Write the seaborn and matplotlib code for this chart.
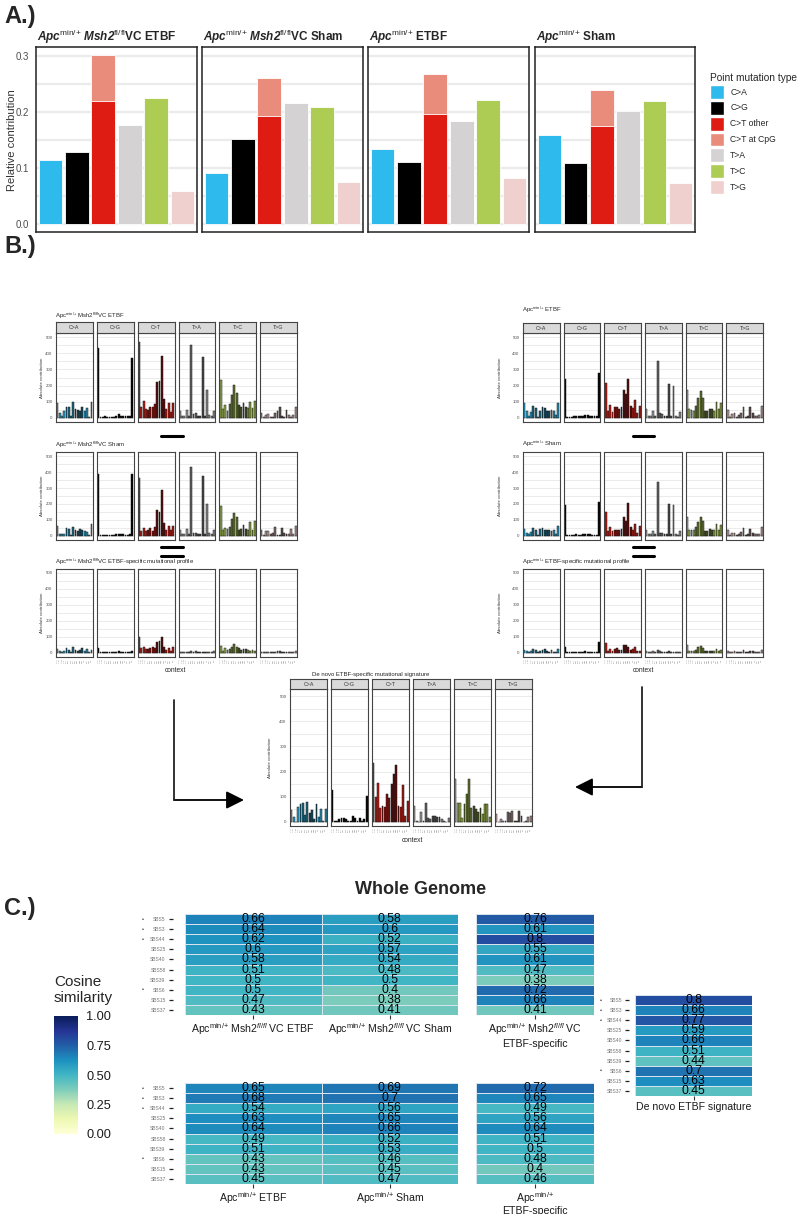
import numpy as np
import pandas as pd
import matplotlib

matplotlib.use("Agg")
import matplotlib.pyplot as plt
import seaborn as sns
from matplotlib.patches import Patch, FancyArrowPatch
from matplotlib.lines import Line2D
from matplotlib.colors import to_rgb

# ---------------- data: panel A (relative contribution) ----------------
MUT_TYPES = ["C>A", "C>G", "C>T", "T>A", "T>C", "T>G"]
A_TITLES = [
    r"$\mathbfit{Apc}^{\mathrm{min/{+}}}\ \mathbfit{Msh2}^{\mathrm{fl/fl}}$VC ETBF",
    r"$\mathbfit{Apc}^{\mathrm{min/{+}}}\ \mathbfit{Msh2}^{\mathrm{fl/fl}}$VC Sham",
    r"$\mathbfit{Apc}^{\mathrm{min/{+}}}$ ETBF",
    r"$\mathbfit{Apc}^{\mathrm{min/{+}}}$ Sham",
]
CA = [0.113, 0.090, 0.134, 0.158]
CG = [0.128, 0.152, 0.111, 0.108]
CT_OTHER = [0.220, 0.193, 0.197, 0.175]
CT_CPG = [0.081, 0.067, 0.070, 0.064]
TA = [0.177, 0.215, 0.184, 0.202]
TC = [0.224, 0.208, 0.222, 0.219]
TG = [0.058, 0.074, 0.081, 0.072]

LEGEND_LABELS = ["C>A", "C>G", "C>T other", "C>T at CpG", "T>A", "T>C", "T>G"]
LEGEND_COLORS = ["#2EBAED", "#000000", "#DE1C14", "#E98C7B", "#D4D2D2", "#ADCC54", "#F0D0CE"]

# ---------------- data: panel B (96-channel profiles, 16 per type) ----------------
CONTEXTS = [f"{a}.{b}" for a in "ACGT" for b in "ACGT"]
PROF_VC_ETBF = [
    90, 30, 10, 40, 70, 65, 10, 100, 55, 50, 40, 70, 40, 60, 5, 100,
    430, 5, 5, 10, 5, 8, 5, 5, 10, 25, 15, 15, 10, 10, 15, 370,
    470, 65, 105, 55, 50, 65, 70, 85, 225, 230, 385, 120, 55, 90, 35, 95,
    40, 10, 10, 50, 15, 450, 25, 30, 10, 15, 375, 10, 175, 20, 10, 45,
    235, 55, 80, 45, 85, 140, 205, 155, 80, 70, 95, 70, 60, 100, 60, 105,
    30, 5, 20, 25, 5, 5, 30, 40, 65, 10, 5, 50, 20, 5, 20, 65,
]
PROF_VC_SHAM = [
    60, 15, 10, 15, 50, 45, 5, 55, 40, 30, 45, 35, 30, 25, 5, 75,
    390, 5, 5, 8, 5, 8, 5, 5, 10, 15, 10, 10, 5, 5, 10, 390,
    365, 30, 50, 30, 35, 50, 30, 55, 160, 150, 285, 80, 35, 65, 40, 60,
    40, 10, 10, 45, 15, 430, 20, 20, 10, 10, 375, 10, 200, 20, 15, 35,
    185, 40, 50, 45, 55, 105, 145, 120, 40, 45, 70, 45, 40, 90, 40, 95,
    35, 5, 30, 30, 15, 20, 55, 5, 5, 50, 20, 15, 10, 45, 10, 65,
]
PROF_VC_SPEC = [
    25, 10, 5, 15, 30, 20, 5, 35, 20, 15, 20, 30, 10, 25, 5, 20,
    30, 5, 5, 5, 5, 5, 5, 5, 5, 10, 5, 5, 5, 5, 5, 10,
    100, 30, 40, 25, 25, 30, 35, 30, 70, 75, 100, 40, 20, 30, 10, 35,
    5, 5, 5, 5, 5, 15, 5, 10, 5, 5, 5, 5, 5, 5, 5, 10,
    45, 15, 30, 20, 25, 35, 55, 40, 30, 20, 25, 25, 20, 15, 20, 10,
    5, 5, 5, 5, 5, 5, 5, 10, 10, 5, 5, 5, 5, 5, 5, 10,
]
PROF_APC_ETBF = [
    95, 40, 15, 35, 75, 60, 5, 45, 70, 60, 45, 45, 50, 45, 20, 90,
    240, 5, 5, 8, 10, 15, 10, 10, 15, 20, 20, 15, 10, 10, 10, 275,
    215, 45, 80, 35, 65, 65, 55, 65, 170, 145, 240, 75, 60, 110, 30, 75,
    55, 15, 10, 40, 15, 355, 30, 25, 15, 15, 210, 15, 200, 15, 5, 35,
    170, 55, 50, 45, 75, 125, 165, 125, 40, 40, 55, 55, 45, 100, 55, 90,
    50, 5, 25, 30, 5, 20, 30, 70, 5, 10, 65, 30, 15, 10, 20, 75,
]
PROF_APC_SHAM = [
    45, 20, 10, 25, 50, 35, 5, 45, 50, 40, 35, 40, 30, 40, 10, 60,
    195, 5, 5, 5, 5, 10, 5, 5, 10, 10, 10, 10, 5, 5, 5, 210,
    150, 30, 55, 30, 40, 40, 35, 45, 120, 95, 205, 55, 40, 75, 20, 60,
    40, 10, 10, 30, 10, 335, 20, 20, 10, 10, 200, 10, 195, 15, 5, 30,
    120, 40, 40, 35, 55, 85, 120, 95, 30, 30, 45, 40, 35, 75, 40, 70,
    40, 5, 20, 20, 5, 15, 25, 50, 5, 10, 45, 20, 10, 10, 15, 55,
]
PROF_APC_SPEC = [
    20, 10, 5, 10, 25, 20, 5, 10, 20, 25, 10, 5, 20, 5, 5, 25,
    40, 5, 5, 5, 5, 5, 5, 5, 5, 10, 5, 5, 5, 5, 5, 70,
    60, 15, 25, 10, 25, 30, 20, 20, 50, 50, 40, 20, 25, 35, 10, 15,
    15, 5, 5, 10, 5, 20, 10, 5, 5, 5, 10, 5, 5, 5, 5, 5,
    50, 15, 10, 10, 20, 40, 45, 30, 10, 10, 10, 15, 10, 25, 15, 20,
    10, 5, 5, 10, 5, 5, 5, 20, 5, 5, 15, 10, 5, 5, 5, 20,
]
PROF_DENOVO = [
    48, 21, 0, 61, 70, 77, 28, 78, 34, 48, 10, 70, 20, 50, 5, 50,
    125, 5, 5, 10, 15, 15, 10, 5, 5, 25, 15, 5, 15, 5, 10, 105,
    235, 100, 155, 55, 65, 60, 110, 95, 150, 190, 225, 65, 60, 145, 25, 85,
    65, 5, 0, 40, 5, 75, 15, 10, 25, 25, 20, 20, 10, 5, 0, 15,
    170, 75, 75, 15, 70, 110, 170, 55, 65, 50, 40, 55, 30, 70, 70, 20,
    30, 0, 10, 5, 5, 40, 35, 45, 5, 5, 45, 25, 0, 5, 20, 25,
]

# ---------------- data: panel C (cosine similarity) ----------------
SIGS = ["SBS5", "SBS3", "SBS44", "SBS25", "SBS40", "SBS58", "SBS39", "SBS6", "SBS15", "SBS37"]
BULLET_SIGS = ["SBS5", "SBS3", "SBS44", "SBS6"]
COS_VC_ETBF = [0.66, 0.64, 0.62, 0.6, 0.58, 0.51, 0.5, 0.5, 0.47, 0.43]
COS_VC_SHAM = [0.58, 0.6, 0.52, 0.57, 0.54, 0.48, 0.5, 0.4, 0.38, 0.41]
COS_VC_SPEC = [0.76, 0.61, 0.8, 0.55, 0.61, 0.47, 0.38, 0.72, 0.66, 0.41]
COS_APC_ETBF = [0.65, 0.68, 0.54, 0.63, 0.64, 0.49, 0.51, 0.43, 0.43, 0.45]
COS_APC_SHAM = [0.69, 0.7, 0.56, 0.65, 0.66, 0.52, 0.53, 0.46, 0.45, 0.47]
COS_APC_SPEC = [0.72, 0.65, 0.49, 0.56, 0.64, 0.51, 0.5, 0.48, 0.4, 0.46]
COS_DENOVO = [0.8, 0.66, 0.77, 0.59, 0.66, 0.51, 0.44, 0.7, 0.63, 0.45]

# ---------------- setup ----------------
sns.set_theme(style="white")
plt.rcParams["font.family"] = ["Liberation Sans", "DejaVu Sans"]
plt.rcParams["mathtext.fontset"] = "custom"
plt.rcParams["mathtext.rm"] = "Liberation Sans"
plt.rcParams["mathtext.it"] = "Liberation Sans:italic"
plt.rcParams["mathtext.bf"] = "Liberation Sans:bold"
plt.rcParams["mathtext.bfit"] = "Liberation Sans:italic:bold"

W, H = 800, 1214
fig = plt.figure(figsize=(W / 100, H / 100), dpi=100)


def fx(x):
    return x / W


def fy(y):
    return 1 - y / H


def add_ax(x0, y0, x1, y1):
    return fig.add_axes([x0 / W, 1 - y1 / H, (x1 - x0) / W, (y1 - y0) / H])


def ftext(x, y, s, **kw):
    return fig.text(fx(x), fy(y), s, **kw)


# ---------------- panel A ----------------
ftext(4, 17, "A.)", fontsize=17, fontweight="bold", va="center")
pal_tot = dict(zip(MUT_TYPES, ["#2EBAED", "#000000", "#E98C7B", "#D4D2D2", "#ADCC54", "#F0D0CE"]))
A_FACETS = [(36, 197), (202, 363), (368, 529), (535, 695)]
for i, (x0, x1) in enumerate(A_FACETS):
    ax = add_ax(x0, 47, x1, 232)
    tot = [CA[i], CG[i], CT_OTHER[i] + CT_CPG[i], TA[i], TC[i], TG[i]]
    df = pd.DataFrame({"type": MUT_TYPES, "value": tot})
    sns.barplot(data=df, x="type", y="value", hue="type", palette=pal_tot, order=MUT_TYPES,
                hue_order=MUT_TYPES, legend=False, width=0.9, saturation=1, errorbar=None,
                edgecolor="white", linewidth=0.6, ax=ax)
    df2 = pd.DataFrame({"type": ["C>T"], "value": [CT_OTHER[i]]})
    sns.barplot(data=df2, x="type", y="value", order=MUT_TYPES, color="#DE1C14", width=0.9,
                saturation=1, errorbar=None, edgecolor="white", linewidth=0.6, ax=ax)
    ax.set_xlim(-0.55, 5.55)
    ax.set_ylim(-0.015, 0.316)
    ax.set_yticks([0, 0.1, 0.2, 0.3])
    ax.set_yticks([0.05, 0.15, 0.25], minor=True)
    ax.grid(axis="y", which="both", color="#EBEBEB", lw=1.6)
    ax.set_axisbelow(True)
    ax.set_xticks([])
    ax.set_xlabel("")
    ax.set_ylabel("")
    for sp in ax.spines.values():
        sp.set_color("#222222")
        sp.set_linewidth(1.1)
    if i == 0:
        ax.set_yticklabels(["0.0", "0.1", "0.2", "0.3"])
        ax.tick_params(axis="y", which="major", labelsize=7, labelcolor="#4D4D4D", length=2, pad=3)
    else:
        ax.tick_params(axis="y", labelleft=False, length=0)
    ax.tick_params(axis="y", which="minor", length=0)
    ftext(x0 + 1, 41, A_TITLES[i], fontsize=8.5, fontweight="bold", va="baseline")

ftext(12, 140, "Relative contribution", rotation=90, fontsize=8, va="center", ha="center", color="#333333")
handles = [Patch(facecolor=c, edgecolor="white") for c in LEGEND_COLORS]
fig.legend(handles, LEGEND_LABELS, title="Point mutation type", loc="upper left",
           bbox_to_anchor=(fx(710), fy(73)), frameon=False, fontsize=6.2, title_fontsize=7.3,
           handlelength=1.65, handleheight=2.1, labelspacing=0.23, handletextpad=0.7,
           borderpad=0, borderaxespad=0, alignment="left")

# ---------------- panel B ----------------
ftext(4, 247, "B.)", fontsize=17, fontweight="bold", va="center")
BASE_COL = dict(zip(MUT_TYPES, ["#2EBAED", "#000000", "#DE1C14", "#B5B3B3", "#ADCC54", "#E0C0BE"]))
SHADE = [0.85, 0.55, 0.4, 0.75]


def shades(mt):
    base = np.array(to_rgb(BASE_COL[mt]))
    return [tuple(base * SHADE[j // 4]) for j in range(16)]


def draw_profile(x0, x1, top, bot, title, title_x, title_y, vals, strip_top=None,
                 ylab_x=None, show_ctx=False, ylim=(-25, 525)):
    gap = 4
    fw = (x1 - x0 - 5 * gap) / 6
    ftext(title_x, title_y, title, fontsize=4.3, va="baseline")
    for k, mt in enumerate(MUT_TYPES):
        a0 = x0 + k * (fw + gap)
        ax = add_ax(a0, top, a0 + fw, bot)
        df = pd.DataFrame({"ctx": CONTEXTS, "value": vals[16 * k:16 * (k + 1)]})
        sns.barplot(data=df, x="ctx", y="value", hue="ctx", palette=shades(mt), legend=False,
                    width=0.82, saturation=1, errorbar=None, edgecolor="#1a1a1a",
                    linewidth=0.35, ax=ax)
        ax.set_xlim(-0.6, 15.6)
        ax.set_ylim(*ylim)
        ax.set_yticks([0, 100, 200, 300, 400, 500])
        ax.set_yticks([50, 150, 250, 350, 450], minor=True)
        ax.grid(axis="y", which="both", color="#E3E3E3", lw=0.5)
        ax.set_axisbelow(True)
        ax.set_xlabel("")
        ax.set_ylabel("")
        for sp in ax.spines.values():
            sp.set_color("#444444")
            sp.set_linewidth(0.8)
        if k == 0:
            ax.tick_params(axis="y", which="major", labelsize=3.2, labelcolor="#555555",
                           length=1.5, width=0.5, pad=1)
        else:
            ax.tick_params(axis="y", labelleft=False, length=0)
        ax.tick_params(axis="y", which="minor", length=0)
        if show_ctx:
            ax.set_xticks(range(16))
            ax.set_xticklabels(CONTEXTS, rotation=90, fontsize=1.6, color="#666666")
            ax.tick_params(axis="x", length=1, width=0.3, pad=0.5)
        else:
            ax.set_xticks([])
        if strip_top is not None:
            sax = add_ax(a0, strip_top, a0 + fw, top)
            sax.set_facecolor("#D9D9D9")
            sax.set_xticks([])
            sax.set_yticks([])
            for sp in sax.spines.values():
                sp.set_color("#444444")
                sp.set_linewidth(0.8)
            sax.text(0.5, 0.5, mt, ha="center", va="center", fontsize=3.8,
                     color="#333333", transform=sax.transAxes)
    if ylab_x is not None:
        ftext(ylab_x, (top + bot) / 2, "Absolute contribution", rotation=90, fontsize=3.2,
              ha="center", va="center", color="#333333")


T_VC = r"Apc$^{\mathrm{min/{+}}}$ Msh2$^{\mathrm{fl/fl}}$VC"
draw_profile(56, 297, 333, 422, T_VC + " ETBF", 55, 318, PROF_VC_ETBF, strip_top=322, ylab_x=42)
draw_profile(56, 297, 452, 540, T_VC + " Sham", 55, 447, PROF_VC_SHAM, ylab_x=42)
draw_profile(56, 297, 569, 657, T_VC + " ETBF-specific mutational profile", 55, 564,
             PROF_VC_SPEC, ylab_x=42, show_ctx=True)
T_APC = r"Apc$^{\mathrm{min/{+}}}$"
draw_profile(523, 763, 333, 422, T_APC + " ETBF", 522, 312, PROF_APC_ETBF, strip_top=323, ylab_x=500)
draw_profile(523, 763, 452, 540, T_APC + " Sham", 522, 446, PROF_APC_SHAM, ylab_x=500)
draw_profile(523, 763, 569, 657, T_APC + " ETBF-specific mutational profile", 522, 564,
             PROF_APC_SPEC, ylab_x=500, show_ctx=True)
draw_profile(290, 532, 689, 826, "De novo ETBF-specific mutational signature", 312, 676,
             PROF_DENOVO, strip_top=679, ylab_x=270, show_ctx=True, ylim=(-16, 528))

for (cx, cy) in [(175, 671), (643, 671), (412, 840)]:
    ftext(cx, cy, "context", fontsize=4.8, ha="center", va="center")

# minus / equals signs between profiles
for (xa, xb) in [(161, 183), (633, 654)]:
    fig.add_artist(Line2D([fx(xa), fx(xb)], [fy(436)] * 2, color="black", lw=2.2))
    for yy in (547, 556):
        fig.add_artist(Line2D([fx(xa), fx(xb)], [fy(yy)] * 2, color="black", lw=2.2))

# arrows to the de novo signature
fig.add_artist(Line2D([fx(174), fx(174)], [fy(700), fy(800)], color="#222222", lw=1.3))
fig.add_artist(FancyArrowPatch((fx(174), fy(800)), (fx(244), fy(800)), transform=fig.transFigure,
                               arrowstyle="-|>,head_length=0.9,head_width=0.45", mutation_scale=12,
                               color="black", lw=1.3, shrinkA=0, shrinkB=0))
fig.add_artist(Line2D([fx(642), fx(642)], [fy(687), fy(787)], color="#222222", lw=1.3))
fig.add_artist(FancyArrowPatch((fx(642), fy(787)), (fx(575), fy(787)), transform=fig.transFigure,
                               arrowstyle="-|>,head_length=0.9,head_width=0.45", mutation_scale=12,
                               color="black", lw=1.3, shrinkA=0, shrinkB=0))

# ---------------- panel C ----------------
ftext(4, 909, "C.)", fontsize=17, fontweight="bold", va="center")
ftext(421, 889, "Whole Genome", fontsize=13, fontweight="bold", ha="center", va="center")

cax = add_ax(54, 1016, 78, 1134)


def draw_heat(x0, y0, x1, y1, cols, names, rowlabels=True, cbar=False, bullet_x=-0.155,
              outward=9, lspace=1.25):
    ax = add_ax(x0, y0, x1, y1)
    df = pd.DataFrame(dict(zip(names, cols)), index=SIGS)
    sns.heatmap(df, ax=ax, cmap="YlGnBu", vmin=0, vmax=1, annot=True, fmt="g",
                annot_kws={"fontsize": 8.8, "color": "black"}, linewidths=0.7,
                linecolor="#D6E2EC", cbar=cbar, cbar_ax=cax if cbar else None,
                xticklabels=True, yticklabels=True)
    ax.tick_params(axis="x", length=3, width=0.8, color="#333333", pad=1.5, bottom=True)
    ax.set_xticklabels(names, rotation=0, fontsize=7.6, color="#1a1a1a", linespacing=lspace)
    if rowlabels:
        ax.spines["left"].set_position(("outward", outward))
        ax.set_yticklabels(SIGS, rotation=0, fontsize=3.6, color="#777777")
        ax.tick_params(axis="y", length=3, width=0.9, color="#222222", pad=2, left=True)
        for j, s in enumerate(SIGS):
            if s in BULLET_SIGS:
                ax.text(bullet_x, j + 0.5, "•", fontsize=4,
                        transform=ax.get_yaxis_transform(), ha="center", va="center")
    else:
        ax.set_yticks([])
    ax.set_xlabel("")
    ax.set_ylabel("")
    return ax


M = r"$^{\mathrm{min/{+}}}$"
F = r"$^{\mathit{fl/fl}}$"
draw_heat(185, 914, 458, 1015, [COS_VC_ETBF, COS_VC_SHAM],
          ["Apc" + M + " Msh2" + F + " VC ETBF", "Apc" + M + " Msh2" + F + " VC Sham"], cbar=True)
draw_heat(476, 914, 594, 1015, [COS_VC_SPEC], ["Apc" + M + " Msh2" + F + " VC\nETBF-specific"],
          rowlabels=False)
draw_heat(185, 1083, 458, 1184, [COS_APC_ETBF, COS_APC_SHAM],
          ["Apc" + M + " ETBF", "Apc" + M + " Sham"])
draw_heat(476, 1083, 594, 1184, [COS_APC_SPEC], ["Apc" + M + "\nETBF-specific"], rowlabels=False,
          lspace=0.95)
draw_heat(635, 995, 752, 1096, [COS_DENOVO], ["De novo ETBF signature"], bullet_x=-0.29,
          outward=4)

cax.set_yticks([0, 0.25, 0.5, 0.75, 1.0])
cax.set_yticklabels(["0.00", "0.25", "0.50", "0.75", "1.00"])
cax.tick_params(axis="y", labelsize=9.2, length=5, width=0.8, color="white", direction="in",
                pad=6, labelcolor="#1a1a1a", left=True, right=True)
for sp in cax.spines.values():
    sp.set_visible(False)
ftext(54, 990, "Cosine\nsimilarity", fontsize=11, ha="left", va="center", linespacing=1.1)

fig.savefig("out.png", dpi=100)
